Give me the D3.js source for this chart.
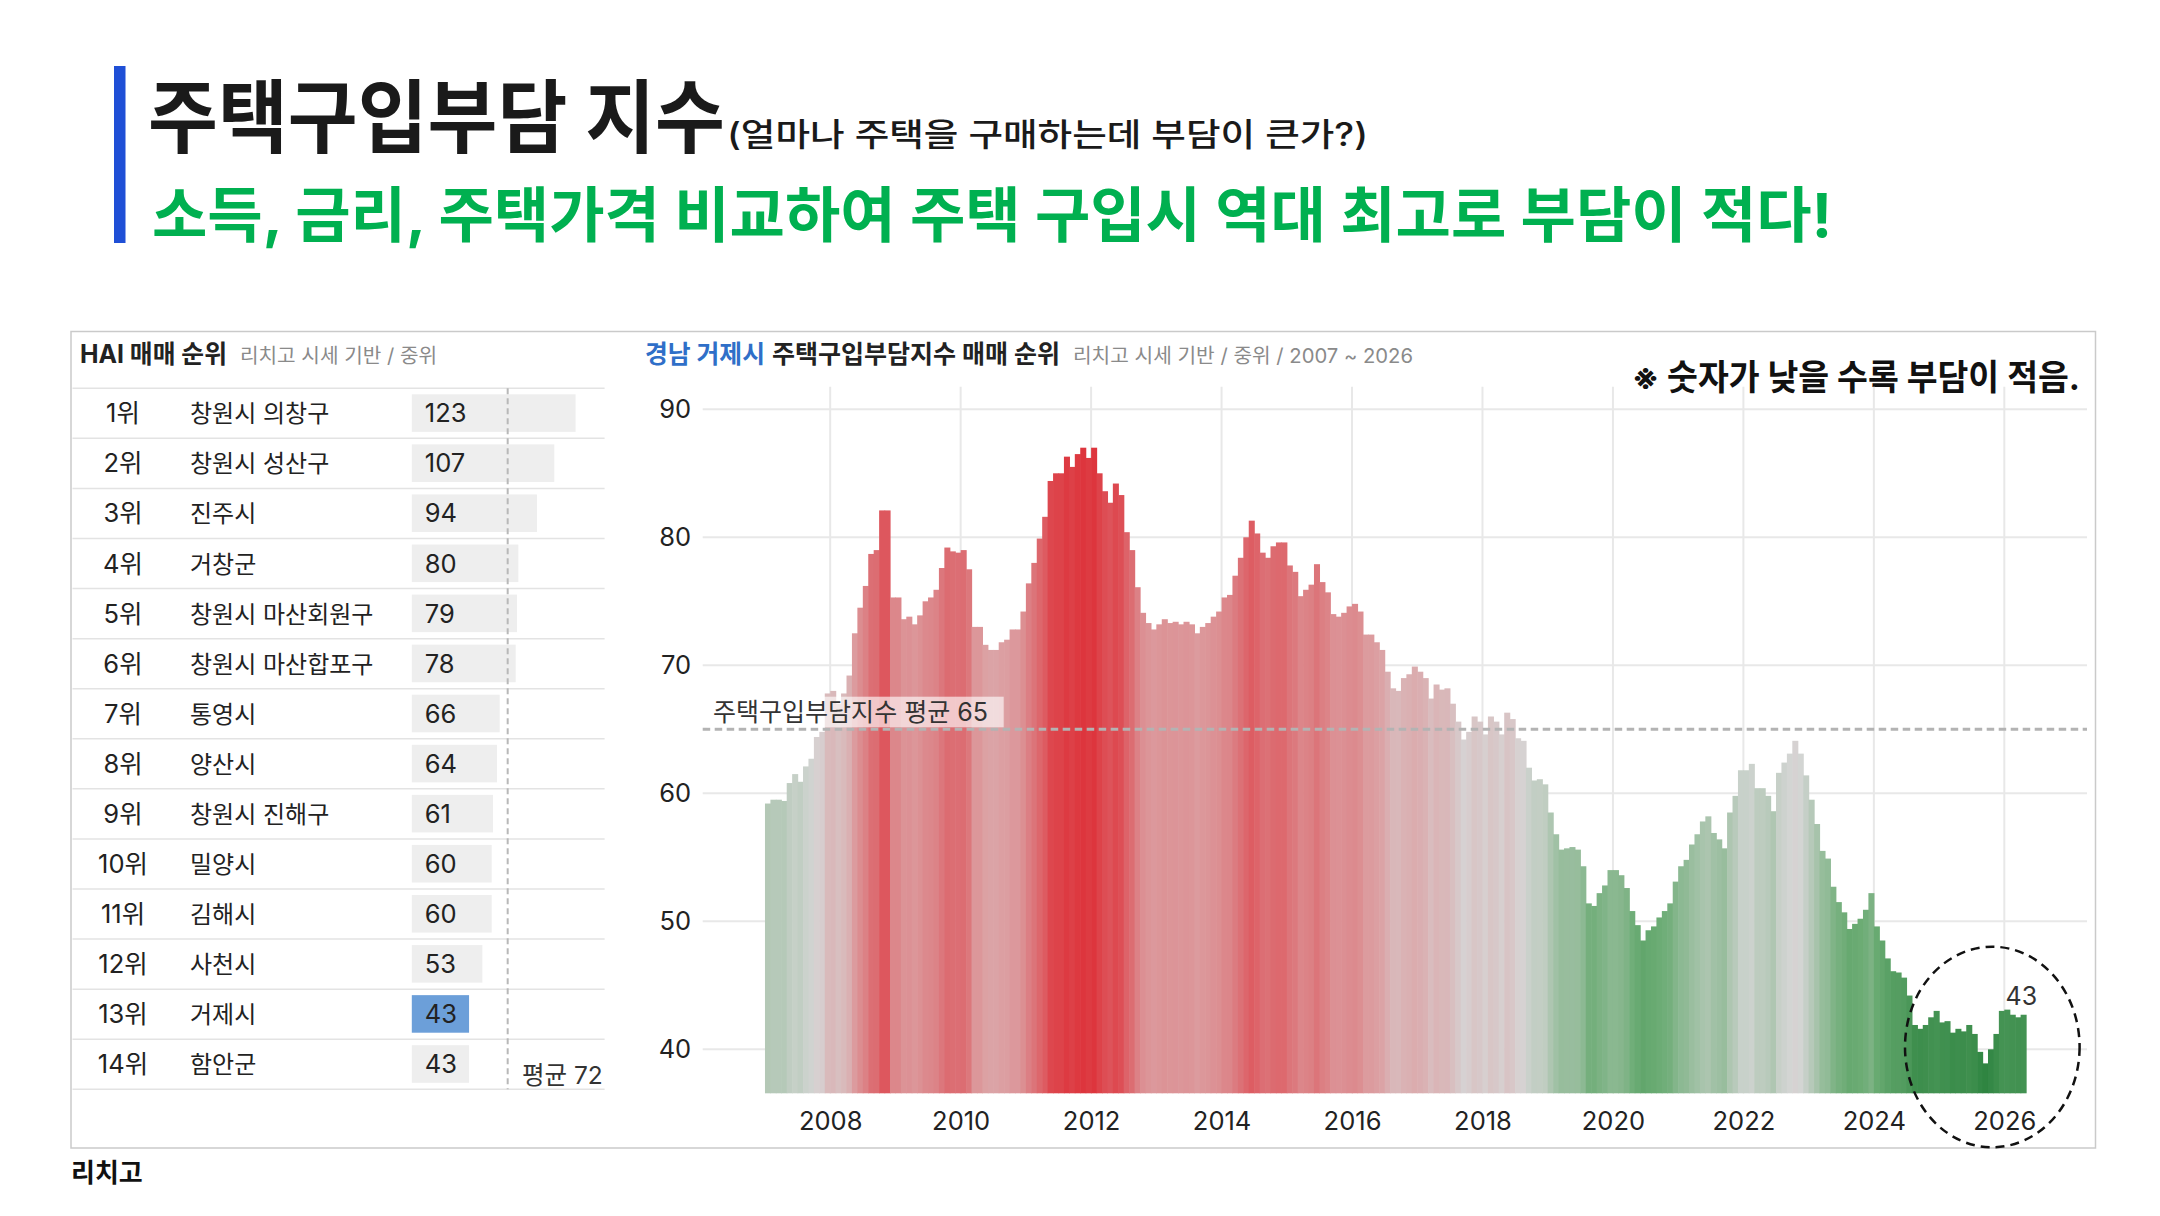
<!DOCTYPE html>
<html><head><meta charset="utf-8">
<script src="https://cdn.jsdelivr.net/npm/d3@7"></script>
<style>
html,body{margin:0;padding:0;background:#fff;}
svg{display:block;}
text{font-family:Inter,"Noto Sans CJK KR",sans-serif;}
</style></head><body>
<svg id="c" width="2160" height="1216"></svg>
<script>
// ---------------- data ----------------
const regionNames = ["창원시 의창구","창원시 성산구","진주시","거창군","창원시 마산회원구","창원시 마산합포구","통영시","양산시","창원시 진해구","밀양시","김해시","사천시","거제시","함안군"];
const regionValues = [123,107,94,80,79,78,66,64,61,60,60,53,43,43];
const rankLabels = regionNames.map((d,i)=>(i+1)+"위");
const highlightRegion = "거제시";
const regionAverage = 72;

const seriesStartYear = 2007; // monthly, from Jan 2007
const haiMonthly = [
59.2,59.5,59.5,59.4,60.8,61.5,60.9,62.1,62.7,64.4,64.8,67.8,
68.0,67.0,67.8,69.2,72.5,74.5,76.2,78.7,79.0,82.1,82.1,75.3,
75.3,73.6,73.8,73.2,73.9,75.0,75.3,75.9,77.6,79.2,78.9,78.8,
79.0,77.5,73.0,73.0,71.6,71.2,71.2,71.8,72.0,72.8,72.8,74.2,
76.4,78.0,79.9,81.6,84.4,85.0,85.0,86.3,85.5,86.5,87.0,86.2,
87.0,85.0,83.6,82.7,84.2,83.3,80.4,79.0,76.1,74.1,73.3,72.8,
73.2,73.6,73.3,73.4,73.2,73.4,73.2,72.5,73.0,73.3,73.8,74.2,
75.3,75.5,77.0,78.4,80.0,81.3,80.3,78.8,78.4,79.3,79.6,79.6,
77.8,77.3,75.4,75.9,76.3,77.9,76.5,75.7,74.0,73.8,74.1,74.6,
74.8,74.2,72.4,72.4,71.8,71.2,69.5,68.2,68.0,69.0,69.3,69.9,
69.5,69.0,67.4,68.5,68.1,68.2,67.0,65.6,64.2,64.8,66.0,65.6,
64.6,66.0,65.6,64.6,66.3,65.8,64.3,64.1,62.0,61.0,61.1,60.7,
58.5,56.8,55.6,55.7,55.8,55.6,54.3,51.4,51.2,52.2,52.8,54.0,
54.0,53.6,52.6,50.8,49.7,48.5,49.3,49.6,50.3,50.8,51.4,53.1,
54.3,54.8,56.0,56.8,57.8,58.2,56.9,56.4,55.7,58.5,59.8,61.8,
61.8,62.3,60.4,60.4,59.8,58.6,61.6,62.4,63.1,64.1,63.1,61.4,
59.5,57.6,55.5,54.9,52.7,51.5,50.7,49.4,49.8,50.2,50.9,52.2,
49.6,48.5,47.1,46.1,46.0,45.6,44.2,41.9,41.6,41.9,42.5,43.0,
42.1,42.2,41.3,41.6,41.4,41.9,41.2,39.8,38.9,40.0,41.2,43.0,
43.1,42.7,42.5,42.7
];
const seriesAverage = 65;
const yTicks = [40,50,60,70,80,90];
const xTicks = [2008,2010,2012,2014,2016,2018,2020,2022,2024,2026];

// ---------------- drawing ----------------
const svg = d3.select("#c");
const KR = '"Noto Sans CJK KR",sans-serif';

// header
svg.append("rect").attr("x",114).attr("y",66).attr("width",11.5).attr("height",177).attr("fill","#1f4fd6");
svg.append("text").attr("x",148).attr("y",146).attr("font-family",KR).attr("font-weight",700)
  .attr("font-size",80).attr("fill","#1a1a1a").attr("textLength",577).attr("lengthAdjust","spacingAndGlyphs")
  .text("주택구입부담 지수");
svg.append("text").attr("x",727).attr("y",146).attr("font-family",KR).attr("font-weight",500)
  .attr("font-size",32).attr("fill","#1a1a1a").attr("textLength",641).attr("lengthAdjust","spacingAndGlyphs")
  .text("(얼마나 주택을 구매하는데 부담이 큰가?)");
svg.append("text").attr("x",152).attr("y",237).attr("font-family",KR).attr("font-weight",700)
  .attr("font-size",60).attr("fill","#00b050").attr("textLength",1680).attr("lengthAdjust","spacingAndGlyphs")
  .text("소득, 금리, 주택가격 비교하여 주택 구입시 역대 최고로 부담이 적다!");

// panel
svg.append("rect").attr("x",71).attr("y",331.5).attr("width",2024.5).attr("height",816.5)
  .attr("fill","none").attr("stroke","#cacaca").attr("stroke-width",1.5);

// footer
svg.append("text").attr("x",71).attr("y",1182).attr("font-family",KR).attr("font-weight",700)
  .attr("font-size",26).attr("fill","#111").text("리치고");

// ---------------- left table ----------------
const tbl = svg.append("g");
const t1 = tbl.append("text").attr("x",80).attr("y",363).attr("font-size",25).attr("fill","#222");
t1.append("tspan").attr("font-weight",700).attr("textLength",147).attr("lengthAdjust","spacingAndGlyphs").text("HAI 매매 순위");
t1.append("tspan").attr("x",240).attr("font-size",20).attr("fill","#8a8a8a").attr("textLength",197).attr("lengthAdjust","spacingAndGlyphs").text("리치고 시세 기반 / 중위");

const rowY = d3.scaleBand().domain(regionNames).range([388.3, 388.3 + 50.07*regionNames.length]).padding(0);
const barX = d3.scaleLinear().domain([0,123]).range([411.8, 575.6]);

regionNames.forEach((name,i)=>{
  const y0 = rowY(name);
  tbl.append("line").attr("x1",72.5).attr("x2",604.6).attr("y1",y0).attr("y2",y0)
    .attr("stroke","#e3e3e3").attr("stroke-width",1.5);
});
const lastY = rowY(regionNames[regionNames.length-1]) + rowY.bandwidth();
tbl.append("line").attr("x1",72.5).attr("x2",604.6).attr("y1",lastY).attr("y2",lastY)
  .attr("stroke","#e3e3e3").attr("stroke-width",1.5);

tbl.selectAll("rect.bar").data(regionNames).join("rect").attr("class","bar")
  .attr("x",barX(0)).attr("y",d=>rowY(d)+6).attr("height",rowY.bandwidth()-12.5)
  .attr("width",(d,i)=>barX(regionValues[i])-barX(0))
  .attr("fill",d=> d===highlightRegion ? "#6c9fd9" : "#eeeeee");

tbl.selectAll("text.rank").data(regionNames).join("text").attr("class","rank")
  .attr("x",123).attr("y",d=>rowY(d)+rowY.bandwidth()/2+9).attr("text-anchor","middle")
  .attr("font-size",25.5).attr("fill","#222").text((d,i)=>rankLabels[i]);
tbl.selectAll("text.name").data(regionNames).join("text").attr("class","name")
  .attr("x",190).attr("y",d=>rowY(d)+rowY.bandwidth()/2+9)
  .attr("font-size",24).attr("fill","#222").text(d=>d);
tbl.selectAll("text.val").data(regionNames).join("text").attr("class","val")
  .attr("x",barX(0)+13).attr("y",d=>rowY(d)+rowY.bandwidth()/2+9)
  .attr("font-size",25.5).attr("fill","#222").text((d,i)=>regionValues[i]);

tbl.append("line").attr("x1",barX(regionAverage)).attr("x2",barX(regionAverage))
  .attr("y1",388.3).attr("y2",lastY).attr("stroke","#b8b8b8").attr("stroke-width",2)
  .attr("stroke-dasharray","6,4");
tbl.append("text").attr("x",522).attr("y",1084).attr("font-size",24.5).attr("fill","#333")
  .text("평균 "+regionAverage);

// ---------------- right chart ----------------
const ch = svg.append("g");
const t2 = ch.append("text").attr("x",645).attr("y",363).attr("font-size",25).attr("fill","#222");
t2.append("tspan").attr("font-weight",700).attr("fill","#2f6fc8").attr("textLength",120).attr("lengthAdjust","spacingAndGlyphs").text("경남 거제시");
t2.append("tspan").attr("x",772).attr("font-weight",700).attr("textLength",288).attr("lengthAdjust","spacingAndGlyphs").text("주택구입부담지수 매매 순위");
t2.append("tspan").attr("x",1073).attr("font-size",20).attr("fill","#8a8a8a").attr("textLength",340).attr("lengthAdjust","spacingAndGlyphs").text("리치고 시세 기반 / 중위 / 2007 ~ 2026");

ch.append("text").attr("x",1632).attr("y",390).attr("font-family",KR).attr("font-weight",700)
  .attr("font-size",35).attr("fill","#111").attr("textLength",448).attr("lengthAdjust","spacingAndGlyphs")
  .text("※ 숫자가 낮을 수록 부담이 적음.");

const x = d3.scaleLinear().domain([2008,2026]).range([830.2,2004.3]);
const y = d3.scaleLinear().domain([40,90]).range([1049.3,409.3]);
const plotLeft = 702.7, plotRight = 2087, plotTop = 386.7, plotBottom = 1093.3;

// grid
ch.selectAll("line.hg").data(yTicks).join("line").attr("class","hg")
  .attr("x1",plotLeft).attr("x2",plotRight).attr("y1",d=>y(d)).attr("y2",d=>y(d))
  .attr("stroke","#e8e8e8").attr("stroke-width",2);
ch.selectAll("line.vg").data(xTicks).join("line").attr("class","vg")
  .attr("x1",d=>x(d)).attr("x2",d=>x(d)).attr("y1",plotTop).attr("y2",plotBottom)
  .attr("stroke","#e8e8e8").attr("stroke-width",2);

// colour
const color = d3.scaleLinear().domain([39,50,63.5,72,87])
  .range(["#2f8541","#6aab73","#d6d6d6","#dc9ea1","#dd353d"]).clamp(true);

// bars
ch.selectAll("rect.m").data(haiMonthly).join("rect").attr("class","m")
  .attr("x",(d,i)=>x(seriesStartYear + i/12))
  .attr("width",(d,i)=>x(seriesStartYear+(i+1)/12)-x(seriesStartYear+i/12)+0.6)
  .attr("y",d=>y(d)).attr("height",d=>plotBottom-y(d))
  .attr("fill",d=>color(d));

// axes
const yAxis = ch.append("g").attr("transform",`translate(${plotLeft},0)`)
  .call(d3.axisLeft(y).tickValues(yTicks).tickSize(0).tickPadding(11.5));
const xAxis = ch.append("g").attr("transform",`translate(0,${plotBottom})`)
  .call(d3.axisBottom(x).tickValues(xTicks).tickFormat(d3.format("d")).tickSize(0).tickPadding(19));
[yAxis,xAxis].forEach(a=>{
  a.select(".domain").remove();
  a.selectAll("text").attr("font-size",25.5).attr("fill","#222").attr("font-family",'Inter,"Noto Sans CJK KR",sans-serif');
});

// average line + label
ch.append("line").attr("x1",plotLeft).attr("x2",plotRight).attr("y1",y(seriesAverage)).attr("y2",y(seriesAverage))
  .attr("stroke","#b3b3b3").attr("stroke-width",3).attr("stroke-dasharray","7.5,4.5");
ch.append("rect").attr("x",706.7).attr("y",696.7).attr("width",297).attr("height",30.6)
  .attr("fill","#fff").attr("fill-opacity",0.62);
ch.append("text").attr("x",713).attr("y",721).attr("font-size",25).attr("fill","#333")
  .attr("textLength",275).attr("lengthAdjust","spacingAndGlyphs")
  .text("주택구입부담지수 평균 "+seriesAverage);

// last value label + ellipse
const lastIdx = haiMonthly.length-1;
const lastVal = haiMonthly[lastIdx];
ch.append("text").attr("x",x(seriesStartYear+(lastIdx+0.5)/12)-2).attr("y",y(lastVal)-10)
  .attr("text-anchor","middle").attr("font-size",25).attr("fill","#333").text(Math.round(lastVal));
ch.append("ellipse").attr("cx",1992.3).attr("cy",1047).attr("rx",87.3).attr("ry",100.3)
  .attr("fill","none").attr("stroke","#111").attr("stroke-width",2.5).attr("stroke-dasharray","9,6");
</script>
</body></html>
